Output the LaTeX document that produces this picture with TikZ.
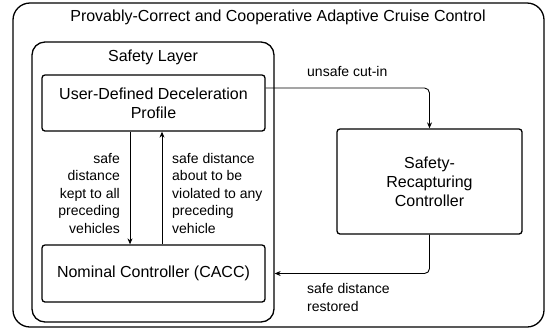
\documentclass[tikz,border=0pt]{standalone}
\usepackage{fontspec}
\setmainfont{Liberation Sans}
\usetikzlibrary{arrows.meta,positioning,calc}

\begin{document}
\begin{tikzpicture}[x=1pt,y=-1pt]
	\tikzstyle{every node}=[font=\fontsize{16}{19}\selectfont]
	\tikzstyle{frame}=[draw, line width=1.3pt, rounded corners=17pt]
	\tikzstyle{block}=[draw, line width=1.3pt, rounded corners=3pt, align=center, inner sep=0pt]
	\tikzstyle{lbl}=[font=\fontsize{14}{17.5}\selectfont, inner sep=0pt]
	\tikzstyle{flow}=[line width=0.9pt, -{Stealth[length=6pt,width=5pt]}]
	\useasboundingbox (0,0) rectangle (546,333);
	\node [frame, minimum width=531pt, minimum height=324pt] (acc) at (278.5,165) {};
	\node (title) at (278,17) {Provably-Correct and Cooperative Adaptive Cruise Control};
	\node [frame, rounded corners=13pt, minimum width=242pt, minimum height=280pt] (layer) at (153,182) {};
	\node (layertitle) at (153,57) {Safety Layer};
	\node [block, minimum width=223pt, minimum height=56pt] (uddp) at (153.5,103) {User-Defined Deceleration\\Profile};
	\node [block, minimum width=223pt, minimum height=57pt] (nominal) at (153.5,273.5) {Nominal Controller (CACC)};
	\node [block, minimum width=185pt, minimum height=105pt] (src) at (429.5,181.5) {Safety-\\Recapturing\\Controller};
	\draw [flow] ([xshift=-23.5pt]uddp.south) -- ([xshift=-23.5pt]nominal.north);
	\draw [flow] ([xshift=8.5pt]nominal.north) -- ([xshift=8.5pt]uddp.south);
	\draw [flow, rounded corners=5pt] ([yshift=15pt]uddp.east) -| (src.north);
	\draw [flow, rounded corners=5pt] (src.south) |- (layer.east |- nominal.east);
	\node [lbl, align=right, anchor=east] (kept) at (120,193) {safe\\distance\\kept to all\\preceding\\vehicles};
	\node [lbl, align=left, anchor=west] (violated) at (172,193) {safe distance\\about to be\\violated to any\\preceding\\vehicle};
	\node [lbl, anchor=west] (cutin) at (307,71) {unsafe cut-in};
	\node [lbl, align=left, anchor=west] (restored) at (307,297.5) {safe distance\\restored};
\end{tikzpicture}
\end{document}
